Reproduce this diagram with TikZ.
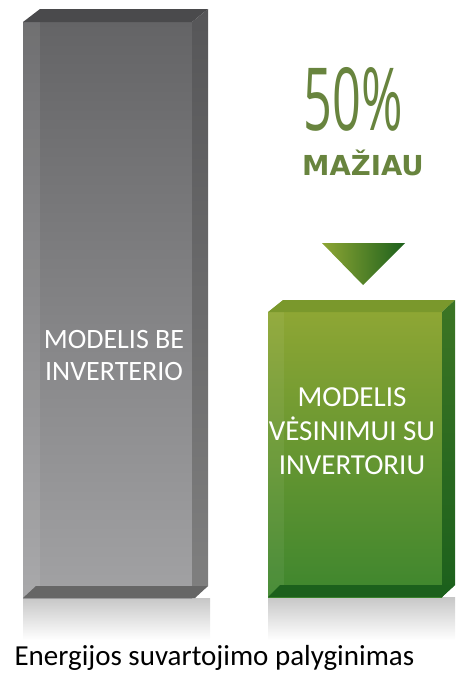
\documentclass[tikz,border=0pt]{standalone}
\usepackage{fontspec}
\setmainfont{Carlito}
\newfontfamily\pctfont[FakeStretch=0.58]{Open Sans}
\newfontfamily\boldfont{DejaVu Sans}
\usetikzlibrary{positioning}

\definecolor{olive}{RGB}{104,132,62}
\definecolor{greytop}{RGB}{74,74,76}
\definecolor{greyfront}{RGB}{100,100,102}
\definecolor{greylow}{RGB}{162,162,164}
\definecolor{greyside}{RGB}{86,86,88}
\definecolor{greentop}{RGB}{122,152,44}
\definecolor{greenfront}{RGB}{142,166,52}
\definecolor{greenlow}{RGB}{62,134,46}
\definecolor{greenside}{RGB}{44,108,34}
\definecolor{greendark}{RGB}{28,96,28}

\begin{document}
\begin{tikzpicture}[x=1pt, y=-1pt,
    barlabel/.style={text=white, align=center, font=\fontsize{28}{32}\selectfont},
    mirror/.style={top color=black!22, bottom color=white, draw=none}]
  \useasboundingbox (0,0) rectangle (466,675);

  % bar without inverter
  \shade[mirror] (23,598) rectangle (210,640);
  \shade[top color=greyfront, bottom color=greylow] (23,22) rectangle (192,598);
  \fill[white, opacity=0.08] (23,22) rectangle (40,598);
  \fill[greytop] (23,22) -- (40,9) -- (208,9) -- (192,22) -- cycle;
  \shade[top color=greyside, bottom color=black!50] (192,22) -- (208,9) -- (208,586) -- (192,598) -- cycle;
  \fill[black!60] (23,598) -- (36,586) -- (208,586) -- (195,598) -- cycle;
  \node[barlabel] (greylabel) at (114,356) {MODELIS BE\\INVERTERIO};

  % bar with inverter
  \shade[mirror] (268,597) rectangle (455,640);
  \shade[top color=greenfront, bottom color=greenlow] (268,312) rectangle (442,597);
  \fill[white, opacity=0.06] (268,312) rectangle (284,597);
  \fill[greentop] (268,312) -- (283,300) -- (455,300) -- (442,312) -- cycle;
  \shade[top color=greenside!80!greentop, bottom color=greendark] (442,312) -- (455,300) -- (455,585) -- (442,597) -- cycle;
  \fill[greendark] (268,597) -- (280,585) -- (455,585) -- (442,597) -- cycle;
  \node[barlabel, font=\fontsize{29}{34}\selectfont] (greenlabel) at (352,431) {MODELIS\\VĖSINIMUI SU\\INVERTORIU};

  % saving
  \node[text=olive, font=\pctfont\fontsize{87}{87}\selectfont, anchor=base] (pct) at (353,130) {50\%};
  \node[text=olive, font=\boldfont\bfseries\fontsize{27.5}{27.5}\selectfont, anchor=base] (less) at (363,175) {MAŽIAU};
  \shade[left color=greenfront, right color=greendark] (322,243) -- (405,243) -- (363,285) -- cycle;

  \node[anchor=base west, font=\fontsize{29}{29}\selectfont] (caption) at (11,665) {Energijos suvartojimo palyginimas};
\end{tikzpicture}
\end{document}
